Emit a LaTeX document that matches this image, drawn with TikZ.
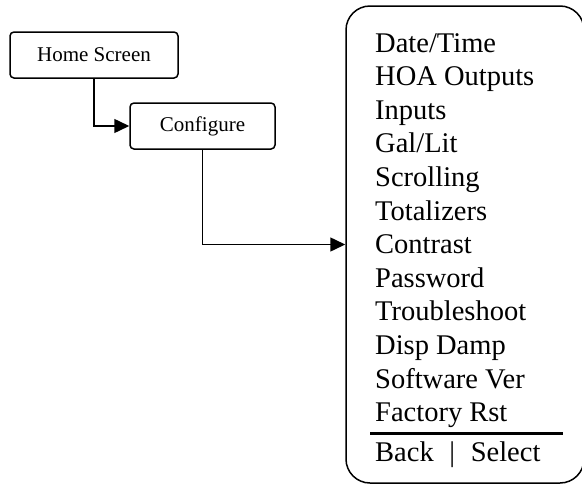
\documentclass[tikz,border=0pt]{standalone}
\usepackage{fontspec}
\setmainfont{Liberation Serif}
\usepackage{tikz}
\usetikzlibrary{arrows.meta}
\tikzset{>={Triangle[length=15pt,width=14pt]}}
\tikzset{
    screenbox/.style={draw, line width=1.5pt, rounded corners=4pt, font=\fontsize{21}{24}\selectfont},
    menuitem/.style={anchor=base west, inner sep=0pt, font=\fontsize{28.5}{33}\selectfont},
}

\begin{document}
\begin{tikzpicture}[x=1pt, y=-1pt]
            \useasboundingbox (0, 0) rectangle (582, 485);

            \node[screenbox, minimum width=168pt, minimum height=46pt] (home) at (94, 55) {Home Screen};
            \node[screenbox, minimum width=145pt, minimum height=46pt] (cfg) at (202.5, 126) {Configure};
            \node[draw, line width=1.5pt, rounded corners=24pt, minimum width=238pt, minimum height=477pt] (menu) at (465, 244.5) {};

            \draw[line width=1.5pt, ->] (home.south) |- (cfg.west);
            \draw[line width=1.5pt, ->] (cfg.south) |- (menu.west);

            \foreach \txt [count=\i from 0] in {Date/Time, HOA Outputs, Inputs, Gal/Lit, Scrolling, Totalizers, Contrast, Password, Troubleshoot, Disp Damp, Software Ver, Factory Rst} {
                \node[menuitem] (item\i) at (375, 52 + 33.6*\i) {\txt};
            }

            \coordinate (ruleL) at (370, 433);
            \coordinate (ruleR) at (563, 433);
            \draw[line width=3pt] (ruleL) -- (ruleR);
            \node[menuitem] (keys) at (375, 461.5) {Back\hspace{0.55em}|\hspace{0.55em}Select};
        \end{tikzpicture}
\end{document}
